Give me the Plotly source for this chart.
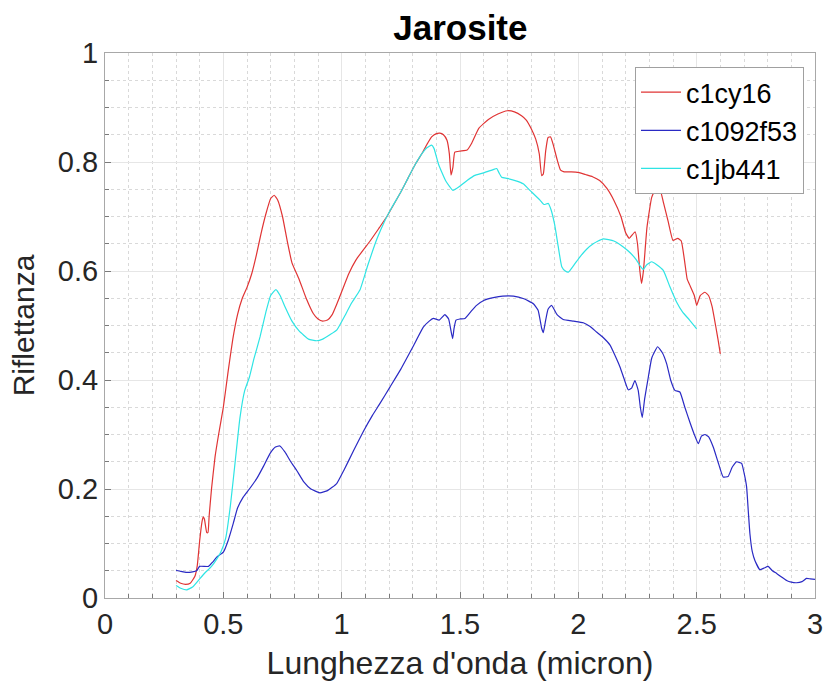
import plotly.graph_objects as go

# Wavelength (micron) and reflectance samples for three jarosite spectra
x_c1cy16 = [0.30, 0.32, 0.34, 0.36, 0.38, 0.39, 0.40, 0.41, 0.415, 0.42, 0.43, 0.435, 0.44, 0.45, 0.465,
            0.48, 0.50, 0.52, 0.54, 0.56, 0.58, 0.60, 0.62, 0.64, 0.66, 0.68, 0.70, 0.715, 0.73, 0.75,
            0.77, 0.79, 0.82, 0.85, 0.88, 0.90, 0.92, 0.94, 0.96, 0.98, 1.00, 1.03, 1.06, 1.09, 1.12,
            1.16, 1.19, 1.22, 1.25, 1.28, 1.31, 1.34, 1.36, 1.38, 1.40, 1.415, 1.43, 1.445, 1.455, 1.462,
            1.47, 1.478, 1.50, 1.53, 1.55, 1.58, 1.62, 1.66, 1.70, 1.73, 1.76, 1.78, 1.80, 1.82, 1.835,
            1.845, 1.852, 1.862, 1.872, 1.883, 1.895, 1.91, 1.925, 1.94, 1.97, 2.00, 2.03, 2.06, 2.09,
            2.12, 2.15, 2.18, 2.20, 2.215, 2.24, 2.25, 2.26, 2.267, 2.275, 2.29, 2.31, 2.33, 2.345, 2.36,
            2.38, 2.40, 2.42, 2.435, 2.45, 2.46, 2.47, 2.49, 2.50, 2.515, 2.535, 2.55, 2.565, 2.58, 2.59, 2.60]
y_c1cy16 = [0.032, 0.027, 0.025, 0.027, 0.040, 0.060, 0.105, 0.140, 0.149, 0.145, 0.120, 0.120, 0.150, 0.200, 0.259,
            0.300, 0.350, 0.415, 0.475, 0.520, 0.550, 0.570, 0.595, 0.630, 0.670, 0.705, 0.733, 0.739, 0.730, 0.700,
            0.655, 0.615, 0.585, 0.550, 0.522, 0.512, 0.508, 0.510, 0.520, 0.540, 0.562, 0.595, 0.620, 0.638, 0.655,
            0.680, 0.699, 0.722, 0.745, 0.770, 0.795, 0.816, 0.832, 0.846, 0.852, 0.853, 0.850, 0.840, 0.815, 0.776,
            0.790, 0.818, 0.820, 0.822, 0.835, 0.862, 0.878, 0.888, 0.894, 0.892, 0.885, 0.877, 0.862, 0.842, 0.815,
            0.775, 0.778, 0.820, 0.845, 0.846, 0.830, 0.805, 0.785, 0.782, 0.782, 0.781, 0.777, 0.773, 0.766,
            0.752, 0.730, 0.700, 0.670, 0.660, 0.672, 0.650, 0.600, 0.577, 0.600, 0.680, 0.735, 0.754, 0.750, 0.725,
            0.690, 0.656, 0.660, 0.655, 0.615, 0.585, 0.575, 0.555, 0.537, 0.555, 0.561, 0.555, 0.535, 0.500, 0.475, 0.448]

x_c1092f53 = [0.30, 0.32, 0.345, 0.37, 0.387, 0.40, 0.437, 0.455, 0.472, 0.50, 0.52, 0.542, 0.56, 0.584, 0.61,
              0.641, 0.67, 0.697, 0.72, 0.739, 0.76, 0.785, 0.81, 0.84, 0.87, 0.908, 0.94, 0.979, 1.01, 1.05,
              1.091, 1.13, 1.162, 1.204, 1.25, 1.30, 1.345, 1.37, 1.387, 1.412, 1.436, 1.452, 1.462, 1.469, 1.475,
              1.483, 1.50, 1.521, 1.545, 1.57, 1.60, 1.641, 1.68, 1.726, 1.77, 1.81, 1.83, 1.845, 1.852, 1.86,
              1.872, 1.887, 1.91, 1.936, 1.98, 2.021, 2.05, 2.077, 2.105, 2.134, 2.155, 2.176, 2.195, 2.211, 2.225,
              2.239, 2.253, 2.262, 2.27, 2.28, 2.296, 2.31, 2.335, 2.355, 2.373, 2.39, 2.408, 2.429, 2.45, 2.471,
              2.49, 2.507, 2.52, 2.535, 2.55, 2.57, 2.59, 2.612, 2.633, 2.65, 2.669, 2.69, 2.70, 2.711, 2.718,
              2.725, 2.735, 2.746, 2.767, 2.785, 2.802, 2.82, 2.838, 2.86, 2.88, 2.90, 2.922, 2.945, 2.964, 2.98, 3.00]
y_c1092f53 = [0.051, 0.049, 0.047, 0.048, 0.050, 0.058, 0.058, 0.066, 0.075, 0.084, 0.105, 0.137, 0.165, 0.185, 0.200,
              0.219, 0.242, 0.265, 0.277, 0.279, 0.268, 0.250, 0.234, 0.213, 0.200, 0.193, 0.197, 0.210, 0.235, 0.270,
              0.305, 0.335, 0.357, 0.387, 0.420, 0.460, 0.497, 0.508, 0.513, 0.510, 0.520, 0.512, 0.490, 0.476, 0.495,
              0.510, 0.512, 0.513, 0.525, 0.537, 0.546, 0.551, 0.554, 0.554, 0.549, 0.540, 0.528, 0.495, 0.487, 0.505,
              0.530, 0.537, 0.520, 0.511, 0.508, 0.505, 0.498, 0.488, 0.478, 0.464, 0.445, 0.424, 0.400, 0.382, 0.385,
              0.399, 0.381, 0.350, 0.331, 0.365, 0.406, 0.440, 0.461, 0.450, 0.430, 0.400, 0.381, 0.378, 0.350, 0.323,
              0.300, 0.283, 0.297, 0.300, 0.296, 0.277, 0.250, 0.222, 0.223, 0.240, 0.250, 0.247, 0.230, 0.204, 0.160,
              0.118, 0.085, 0.069, 0.052, 0.055, 0.058, 0.050, 0.045, 0.038, 0.032, 0.029, 0.028, 0.030, 0.036, 0.035, 0.034]

x_c1jb441 = [0.30, 0.32, 0.345, 0.37, 0.40, 0.42, 0.45, 0.47, 0.49, 0.51, 0.53, 0.55, 0.57, 0.59, 0.61,
             0.63, 0.655, 0.68, 0.70, 0.722, 0.74, 0.76, 0.79, 0.82, 0.86, 0.894, 0.92, 0.95, 0.98, 1.01,
             1.04, 1.077, 1.11, 1.15, 1.18, 1.21, 1.25, 1.28, 1.31, 1.34, 1.36, 1.38, 1.39, 1.41, 1.44,
             1.47, 1.50, 1.53, 1.56, 1.60, 1.64, 1.655, 1.665, 1.676, 1.70, 1.74, 1.767, 1.80, 1.838, 1.855,
             1.873, 1.885, 1.90, 1.915, 1.93, 1.945, 1.958, 1.98, 2.007, 2.035, 2.063, 2.105, 2.15, 2.19, 2.22,
             2.246, 2.26, 2.274, 2.29, 2.31, 2.33, 2.359, 2.387, 2.415, 2.44, 2.47, 2.50]
y_c1jb441 = [0.023, 0.018, 0.015, 0.020, 0.035, 0.045, 0.058, 0.070, 0.085, 0.110, 0.170, 0.250, 0.330, 0.380, 0.405,
             0.440, 0.479, 0.525, 0.555, 0.566, 0.555, 0.535, 0.508, 0.490, 0.475, 0.472, 0.475, 0.483, 0.492, 0.515,
             0.540, 0.565, 0.610, 0.660, 0.690, 0.715, 0.745, 0.770, 0.795, 0.816, 0.826, 0.831, 0.825, 0.795, 0.765,
             0.748, 0.756, 0.766, 0.775, 0.780, 0.786, 0.788, 0.780, 0.772, 0.770, 0.765, 0.760, 0.746, 0.730, 0.722,
             0.724, 0.712, 0.685, 0.645, 0.608, 0.600, 0.598, 0.610, 0.626, 0.640, 0.650, 0.659, 0.655, 0.644, 0.633,
             0.620, 0.610, 0.603, 0.612, 0.617, 0.612, 0.601, 0.571, 0.543, 0.525, 0.510, 0.494]

series = [
    ("c1cy16", x_c1cy16, y_c1cy16, "#e03434"),
    ("c1092f53", x_c1092f53, y_c1092f53, "#2a2ac4"),
    ("c1jb441", x_c1jb441, y_c1jb441, "#2ee4e4"),
]

FONT = "Liberation Sans, Arial, Helvetica, sans-serif"
TXT = "#262626"

fig = go.Figure()
for name, xs, ys, color in series:
    fig.add_trace(go.Scatter(x=xs, y=ys, mode="lines", name=name,
                             line=dict(color=color, width=1.2, shape="spline", smoothing=0.4)))

axis_common = dict(
    showline=True, linecolor="#a8a8a8", linewidth=1, mirror=True,
    ticks="inside", ticklen=6, tickcolor="#7a7a7a",
    showgrid=True, gridcolor="#e6e6e6", gridwidth=1,
    zeroline=False, automargin=False,
    tickfont=dict(family=FONT, size=29, color=TXT),
)

fig.update_xaxes(
    range=[0, 3], tickvals=[0, 0.5, 1, 1.5, 2, 2.5, 3],
    ticktext=["0", "0.5", "1", "1.5", "2", "2.5", "3"],
    minor=dict(dtick=0.1, tick0=0, ticks="inside", ticklen=4, tickcolor="#7a7a7a",
               showgrid=True, gridcolor="#d9d9d9", griddash="dot"),
    title=dict(text="Lunghezza d'onda (micron)", font=dict(family=FONT, size=32, color=TXT), standoff=12),
    **axis_common,
)
fig.update_yaxes(
    range=[0, 1], tickvals=[0, 0.2, 0.4, 0.6, 0.8, 1],
    ticktext=["0", "0.2", "0.4", "0.6", "0.8", "1"],
    minor=dict(dtick=0.05, tick0=0, ticks="inside", ticklen=4, tickcolor="#7a7a7a",
               showgrid=True, gridcolor="#d9d9d9", griddash="dot"),
    title=dict(text="Riflettanza", font=dict(family=FONT, size=30, color=TXT), standoff=14),
    **axis_common,
)

fig.update_layout(
    width=828, height=690,
    margin=dict(l=105, r=13, t=53, b=92),
    paper_bgcolor="white", plot_bgcolor="white",
    title=dict(text="<b>Jarosite</b>", x=0.556, xanchor="center", y=0.96, yanchor="middle",
               font=dict(family=FONT, size=35, color="black")),
    legend=dict(x=0.9845, y=0.974, xanchor="right", yanchor="top",
                bgcolor="white", bordercolor="#a0a0a0", borderwidth=1,
                font=dict(family=FONT, size=27, color="black"),
                tracegroupgap=0, itemwidth=40,
                entrywidth=180, entrywidthmode="pixels"),
    showlegend=True,
)

fig.write_html("out.html")
